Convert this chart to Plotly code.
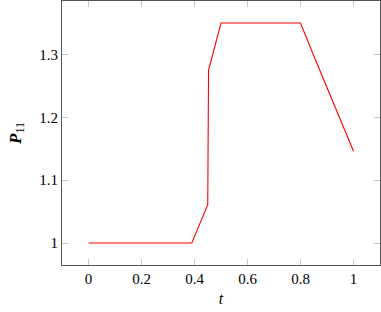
import plotly.graph_objects as go

t = [0.0, 0.39, 0.45, 0.453, 0.5, 0.8, 0.85, 0.9, 0.95, 1.0]
p11 = [1.0, 1.0, 1.061, 1.275, 1.35, 1.35, 1.298, 1.248, 1.196, 1.146]

x_ticks = [0, 0.2, 0.4, 0.6, 0.8, 1]
x_labels = ["0", "0.2", "0.4", "0.6", "0.8", "1"]
y_ticks = [1.0, 1.1, 1.2, 1.3]
y_labels = ["1", "1.1", "1.2", "1.3"]

font = "Liberation Serif, Times New Roman, serif"

fig = go.Figure()
fig.add_trace(go.Scatter(x=t, y=p11, mode="lines",
                         line=dict(color="#ff0000", width=1.1), showlegend=False))

axis_common = dict(
    showgrid=False, zeroline=False, showline=True, linecolor="#555555", linewidth=1,
    mirror="ticks", ticks="inside", ticklen=6, tickcolor="#c8c8c8", tickwidth=1,
    tickfont=dict(family=font, size=15, color="#000000"),
)

fig.update_layout(
    width=381, height=312,
    margin=dict(l=62, r=1, t=1, b=47),
    font=dict(family=font, size=15, color="#000000"),
    plot_bgcolor="white", paper_bgcolor="white",
    xaxis=dict(range=[-0.1, 1.1], tickvals=x_ticks, ticktext=x_labels,
               title=dict(text="<i>t</i>", font=dict(family=font, size=16, color="#000"), standoff=6),
               **axis_common),
    yaxis=dict(range=[0.965, 1.385], tickvals=y_ticks, ticktext=y_labels,
               title=dict(text="<b><i>P</i></b><sub>11</sub>", font=dict(family=font, size=17, color="#000"), standoff=13),
               **axis_common),
)

fig.write_html("out.html", config={"responsive": False, "displayModeBar": False},
               post_script="document.body.style.margin='0';document.body.style.padding='0';document.body.style.overflow='hidden';")
